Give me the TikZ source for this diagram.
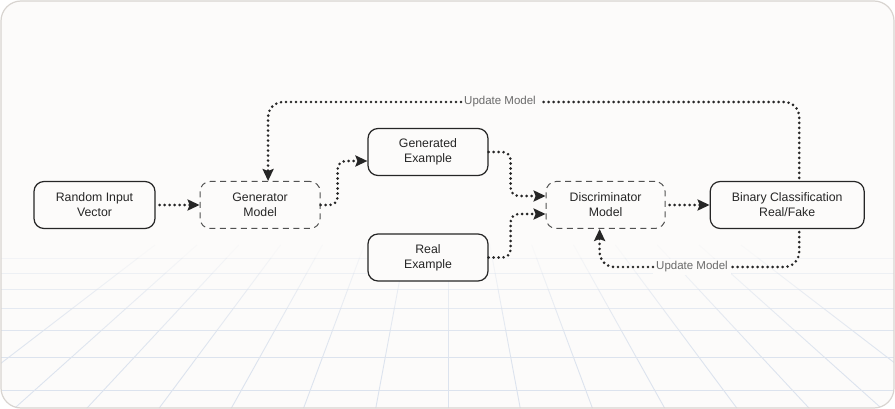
\documentclass[tikz,border=0pt]{standalone}
\usepackage{fontspec}
\setmainfont{Liberation Sans}
\usepackage{xcolor}
\usepackage{tikz}
\usetikzlibrary{positioning,arrows.meta}
\definecolor{bgc}{HTML}{FCFBFA}
\definecolor{framec}{HTML}{D8D4D0}
\definecolor{gridc}{HTML}{DCE3EE}
\definecolor{inkc}{HTML}{262626}
\definecolor{labelc}{HTML}{6A6A6A}

\begin{document}
\begin{tikzpicture}[x=1pt, y=-1pt, >={Stealth[length=12pt,width=11pt,inset=2pt]},
    box/.style={draw=inkc, line width=1.2pt, rounded corners=10pt, fill=bgc, minimum height=47pt,
        align=center, text=inkc, font=\fontsize{12.3}{15}\selectfont},
    dbox/.style={box, draw=inkc!80, line width=1pt, dash pattern=on 6pt off 4.5pt},
    flow/.style={draw=inkc, line width=2.9pt, line cap=round, dash pattern=on 0pt off 5pt, rounded corners=8pt},
    upd/.style={fill=bgc, inner sep=3pt, text=labelc, font=\fontsize{11.5}{13}\selectfont},
    gridline/.style={draw=gridc, line width=0.9pt}]
    \useasboundingbox (0,0) rectangle (895,409);
    \fill[bgc, rounded corners=20pt] (1,1) rectangle (894,408);

    \begin{scope}
        \clip[rounded corners=20pt] (1,1) rectangle (894,408);
        \foreach \ya/\yb/\op in {245/258/0.12, 258/273/0.3, 273/289/0.45, 289/308/0.6, 308/330/0.75, 330/357/0.9, 357/390/1, 390/409/1}
            \foreach \k in {-7,...,7}
                \draw[gridline, opacity=\op] ({448+\k*72/387*(\ya-20)}, \ya) -- ({448+\k*72/387*(\yb-20)}, \yb);
        \foreach \y/\op in {258/0.3, 273/0.45, 289/0.6, 308/0.75, 330/0.9, 357/1, 390/1}
            \draw[gridline, opacity=\op] (1,\y) -- (894,\y);
    \end{scope}
    \draw[framec, line width=1.2pt, rounded corners=20pt] (1,1) rectangle (894,408);

    \node[box, minimum width=121pt] (rand) at (94.5,205) {Random Input\\Vector};
    \node[dbox, minimum width=120pt, right=44pt of rand] (gen) {Generator\\Model};
    \node[box, minimum width=120pt] (gener) at (428,152) {Generated\\Example};
    \node[box, minimum width=120pt] (real) at (428,257.5) {Real\\Example};
    \node[dbox, minimum width=119pt, right=225pt of gen] (disc) {Discriminator\\Model};
    \node[box, minimum width=154pt, right=44pt of disc] (bin) {Binary Classification\\Real/Fake};

    \node[upd] (upd1) at (500,102) {Update Model};
    \node[upd] (upd2) at (692,267) {Update Model};

    \draw[flow, ->, shorten <=4pt] (rand) -- (gen);
    \draw[flow, ->] (gen.east) -- ++(17,0) |- ([yshift=-9pt]gener.west);
    \draw[flow, ->] (gener.east) -- ++(22,0) |- ([yshift=9pt]disc.west);
    \draw[flow, ->] (real.east) -- ++(22,0) |- ([yshift=-9pt]disc.west);
    \draw[flow, ->, shorten <=4pt] (disc) -- (bin);

    \draw[flow, rounded corners=15pt, shorten <=3pt] ([xshift=12pt]bin.north) |- (upd1.east);
    \draw[flow, ->, rounded corners=15pt] (upd1.west) -| ([xshift=8pt]gen.north);
    \draw[flow, rounded corners=15pt, shorten <=3pt] ([xshift=12pt]bin.south) |- (upd2.east);
    \draw[flow, ->, rounded corners=15pt] (upd2.west) -| ([xshift=-6pt]disc.south);
\end{tikzpicture}
\end{document}
